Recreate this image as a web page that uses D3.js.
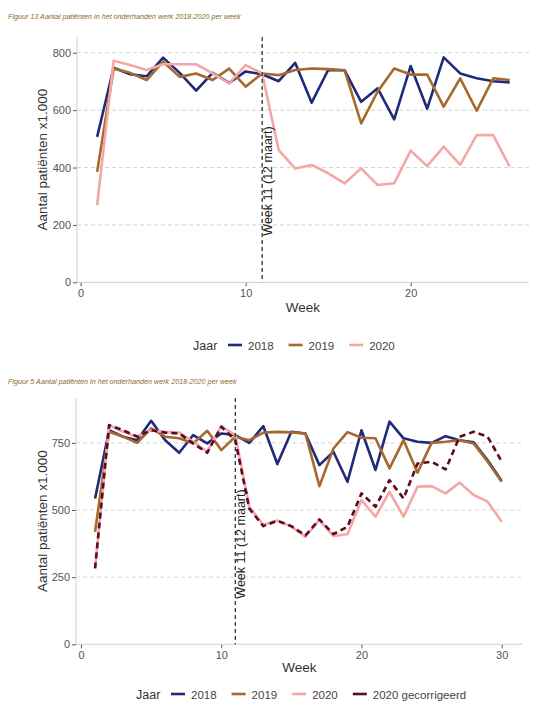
<!DOCTYPE html>
<html><head><meta charset="utf-8">
<script src="https://cdn.jsdelivr.net/npm/d3@7"></script>
<style>
html,body{margin:0;padding:0;background:#fff;}
text{font-family:"Liberation Sans",Arial,sans-serif;}
</style></head>
<body>
<svg id="chart" width="543" height="709"></svg>
<script>
// ---------- DATA ----------
const weeksA = d3.range(1, 27);
const a2018 = [507,748,725,718,783,730,668,730,695,735,725,701,765,626,740,739,629,676,568,754,605,784,728,711,701,697];
const a2019 = [385,745,730,705,769,716,728,705,745,682,728,722,740,745,743,739,554,665,745,724,724,612,711,598,711,705];
const a2020 = [269,772,757,740,760,760,760,728,693,757,728,461,397,409,380,345,397,339,345,459,405,473,409,513,513,403];
const ticksYA = [0,200,400,600,800];
const ticksXA = [0,10,20];

const weeksB = d3.range(1, 31);
const b2018 = [543,797,773,760,832,760,713,779,748,785,779,750,812,671,791,785,667,717,605,797,649,829,767,754,750,775,760,752,685,608];
const b2019 = [419,791,773,750,804,773,767,748,795,723,773,760,788,791,789,785,589,729,790,769,767,655,760,639,750,754,760,748,680,605];
const b2020 = [283,816,791,773,797,791,788,754,717,812,779,512,444,461,438,401,463,403,410,537,475,568,475,587,589,562,602,556,531,456];
const b2020c = [283,816,797,773,797,788,785,748,713,810,760,505,440,460,440,405,465,410,438,562,512,611,543,673,680,651,773,791,773,680];
const ticksYB = [0,250,500,750];
const ticksXB = [0,10,20,30];

const seriesNames = ["2018","2019","2020","2020 gecorrigeerd"];
const colors = {"2018":"#1f2b78","2019":"#a5692e","2020":"#f4a7a5","2020 gecorrigeerd":"#5a0c22"};
const titleA = "Figuur 13 Aantal patiënten in het onderhanden werk 2018-2020 per week";
const titleB = "Figuur 5 Aantal patiënten in het onderhanden werk 2018-2020 per week";
const yLabel = "Aantal patiënten x1.000";
const xLabel = "Week";
const vlineLabel = "Week 11 (12 maart)";
const vlineWeek = 11;

const svg = d3.select("#chart");

function panel(cfg){
  const g = svg.append("g");
  const x = d3.scaleLinear().domain(cfg.xDom).range([cfg.left, cfg.right]);
  const y = d3.scaleLinear().domain(cfg.yDom).range([cfg.bottom, cfg.top]);

  // title
  g.append("text").attr("x", 8).attr("y", cfg.titleY)
    .attr("font-size", 7.2).attr("font-style","italic").attr("fill","#8c6a2c")
    .text(cfg.title);

  // grid
  g.selectAll(".grid").data(cfg.ticksY.filter(d=>d>0)).join("line")
    .attr("x1", cfg.left).attr("x2", cfg.right)
    .attr("y1", d=>y(d)).attr("y2", d=>y(d))
    .attr("stroke","#d4d4d4").attr("stroke-width",1).attr("stroke-dasharray","4,3");

  // axes
  const yAxis = d3.axisLeft(y).tickValues(cfg.ticksY).tickSize(4).tickPadding(2);
  const ya = g.append("g").attr("transform",`translate(${cfg.left},0)`).call(yAxis);
  const xAxis = d3.axisBottom(x).tickValues(cfg.ticksX).tickSize(4).tickPadding(3);
  const xa = g.append("g").attr("transform",`translate(0,${cfg.bottom})`).call(xAxis);
  [ya,xa].forEach(a=>{
    a.select(".domain").remove();
    a.selectAll(".tick line").attr("stroke","#555");
    a.selectAll(".tick text").attr("fill","#555").attr("font-size",11)
      .attr("font-family","'Liberation Sans',Arial,sans-serif");
  });
  g.append("line").attr("x1",cfg.left).attr("x2",cfg.left).attr("y1",cfg.top).attr("y2",cfg.bottom)
    .attr("stroke","#d0d0d0");
  g.append("line").attr("x1",cfg.left).attr("x2",cfg.right).attr("y1",cfg.bottom).attr("y2",cfg.bottom)
    .attr("stroke","#d0d0d0");

  // lines
  const line = d3.line().x(d=>x(d[0])).y(d=>y(d[1]));
  cfg.series.forEach(s=>{
    g.append("path").datum(cfg.weeks.map((w,i)=>[w,s.values[i]]))
      .attr("d", line).attr("fill","none")
      .attr("stroke", colors[s.name]).attr("stroke-width", 2.6)
      .attr("stroke-linejoin","round")
      .attr("stroke-dasharray", s.dash || null);
  });

  // vertical line
  g.append("line").attr("x1",x(vlineWeek)).attr("x2",x(vlineWeek))
    .attr("y1",cfg.top).attr("y2",cfg.bottom)
    .attr("stroke","#222").attr("stroke-width",1.2).attr("stroke-dasharray","4,3");
  g.append("text")
    .attr("transform",`translate(${x(vlineWeek)+10},${cfg.vlabelY}) rotate(-90)`)
    .attr("text-anchor","middle").attr("font-size",12.5).attr("fill","#222")
    .text(vlineLabel);

  // axis labels
  g.append("text")
    .attr("transform",`translate(${cfg.yLabelX},${(cfg.top+cfg.bottom)/2}) rotate(-90)`)
    .attr("text-anchor","middle").attr("font-size",13.5).attr("fill","#333").text(yLabel);
  g.append("text").attr("x",(cfg.left+cfg.right)/2).attr("y",cfg.xLabelY)
    .attr("text-anchor","middle").attr("font-size",13.5).attr("fill","#333").text(xLabel);

  // legend
  const lg = g.append("g");
  lg.append("text").attr("x",cfg.legX).attr("y",cfg.legY+4.5).attr("font-size",12.5).attr("fill","#333").text("Jaar");
  let cx = cfg.legX + 35;
  cfg.series.forEach(s=>{
    lg.append("line").attr("x1",cx).attr("x2",cx+14).attr("y1",cfg.legY).attr("y2",cfg.legY)
      .attr("stroke",colors[s.name]).attr("stroke-width",2.6);
    const t = lg.append("text").attr("x",cx+20).attr("y",cfg.legY+4.5)
      .attr("font-size",11.5).attr("fill","#444").text(s.name);
    cx += 20 + t.node().getComputedTextLength() + 15;
  });
}

panel({
  title: titleA, titleY: 19,
  left: 77, right: 529, top: 37, bottom: 282.3,
  xDom: [-0.22, 27.17], yDom: [0, 855],
  weeks: weeksA, ticksY: ticksYA, ticksX: ticksXA,
  series: [{name:"2018",values:a2018},{name:"2019",values:a2019},{name:"2020",values:a2020}],
  vlabelY: 181, yLabelX: 47, xLabelY: 312,
  legX: 193, legY: 345
});

panel({
  title: titleB, titleY: 384,
  left: 76, right: 523, top: 398, bottom: 644.3,
  xDom: [-0.36, 31.52], yDom: [0, 917],
  weeks: weeksB, ticksY: ticksYB, ticksX: ticksXB,
  series: [{name:"2018",values:b2018},{name:"2019",values:b2019},{name:"2020",values:b2020},
           {name:"2020 gecorrigeerd",values:b2020c,dash:"6,4"}],
  vlabelY: 544, yLabelX: 47, xLabelY: 672,
  legX: 136, legY: 694
});
</script>
</body></html>
